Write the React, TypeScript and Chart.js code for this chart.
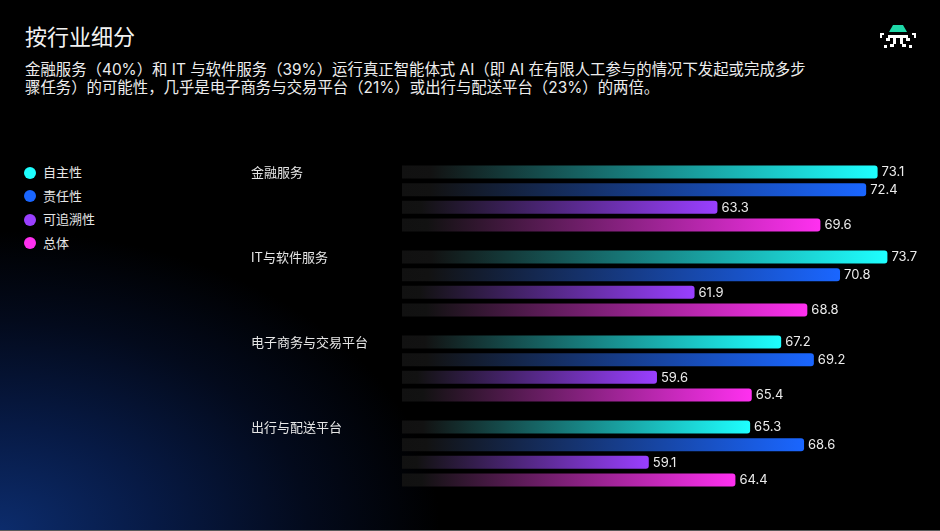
import React, { useEffect, useRef } from "react";
import { Chart, registerables } from "chart.js";

Chart.register(...registerables);

const categories = ["金融服务", "IT与软件服务", "电子商务与交易平台", "出行与配送平台"];
const seriesNames = ["自主性", "责任性", "可追溯性", "总体"];
const autonomy = [73.1, 73.7, 67.2, 65.3];
const accountability = [72.4, 70.8, 69.2, 68.6];
const traceability = [63.3, 61.9, 59.6, 59.1];
const overall = [69.6, 68.8, 65.4, 64.4];
const seriesColors = ["#1EFFFF", "#1A66FF", "#9A3FFF", "#FF30F0"];
const X_MIN = 44;
const X_MAX = 76;

const FONT = "Inter, 'Noto Sans CJK SC', 'Noto Sans', sans-serif";

const labelsPlugin = {
  id: "customLabels",
  afterDatasetsDraw(chart: any) {
    const ctx = chart.ctx;
    ctx.save();
    chart.data.datasets.forEach((ds: any, di: number) => {
      const meta = chart.getDatasetMeta(di);
      meta.data.forEach((bar: any, i: number) => {
        ctx.font = `13px ${FONT}`;
        ctx.fillStyle = "#ececec";
        ctx.textAlign = "left";
        ctx.textBaseline = "middle";
        ctx.fillText(String(ds.data[i]), bar.x + 4, bar.y + 0.5);
      });
    });
    const meta0 = chart.getDatasetMeta(0);
    meta0.data.forEach((bar: any, i: number) => {
      ctx.font = `13px ${FONT}`;
      ctx.fillStyle = "#e6e6e6";
      ctx.textAlign = "left";
      ctx.textBaseline = "middle";
      ctx.fillText(chart.data.labels[i], 251, bar.y + 1);
    });
    ctx.restore();
  },
};

function gradientFor(color: string) {
  return (c: any) => {
    const chart = c.chart;
    const area = chart.chartArea;
    if (!area || c.raw === undefined) return color;
    const xs = chart.scales.x;
    const x0 = area.left;
    const x1 = xs.getPixelForValue(c.raw);
    const g = chart.ctx.createLinearGradient(x0, 0, Math.max(x1, x0 + 1), 0);
    g.addColorStop(0, "#111111");
    g.addColorStop(0.06, "#121212");
    g.addColorStop(1, color);
    return g;
  };
}

export default function App() {
  const ref = useRef<HTMLCanvasElement>(null);

  useEffect(() => {
    if (!ref.current) return;
    const seriesData = [autonomy, accountability, traceability, overall];
    const chart = new Chart(ref.current, {
      type: "bar",
      data: {
        labels: categories,
        datasets: seriesData.map((d, i) => ({
          label: seriesNames[i],
          data: d,
          backgroundColor: gradientFor(seriesColors[i]),
          borderRadius: { topLeft: 0, bottomLeft: 0, topRight: 3, bottomRight: 3 },
          borderSkipped: false,
          categoryPercentage: 0.8306,
          barPercentage: 0.74,
        })),
      },
      options: {
        indexAxis: "y",
        responsive: false,
        animation: false,
        devicePixelRatio: 1,
        layout: { padding: { left: 402, right: 15, top: 156, bottom: 35 } },
        scales: {
          x: { min: X_MIN, max: X_MAX, display: false },
          y: { display: false },
        },
        plugins: {
          legend: { display: false },
          tooltip: { enabled: false },
        },
      } as any,
      plugins: [labelsPlugin],
    });
    return () => chart.destroy();
  }, []);

  return (
    <div
      style={{
        position: "fixed",
        left: 0,
        top: 0,
        width: 940,
        height: 531,
        overflow: "hidden",
        fontFamily: FONT,
        color: "#f0f0f0",
        background:
          "radial-gradient(ellipse 440px 300px at 0% 100%, #0c2c6c 0%, #071a45 35%, #030a1c 70%, #000 100%), #000",
      }}
    >
      <div style={{ position: "absolute", left: 25, top: 22, fontSize: 22, lineHeight: "30px", color: "#f2f2f2" }}>
        按行业细分
      </div>
      <div
        style={{
          position: "absolute",
          left: 25,
          top: 61,
          fontSize: 15.4,
          lineHeight: "17.5px",
          color: "#ededed",
          whiteSpace: "nowrap",
        }}
      >
        金融服务（40%）和 IT 与软件服务（39%）运行真正智能体式 AI（即 AI 在有限人工参与的情况下发起或完成多步
        <br />
        骤任务）的可能性，几乎是电子商务与交易平台（21%）或出行与配送平台（23%）的两倍。
      </div>

      {seriesNames.map((n, i) => (
        <div key={n} style={{ position: "absolute", left: 24, top: 166 + i * 23.5, height: 13, display: "flex", alignItems: "center" }}>
          <span
            style={{
              display: "inline-block",
              width: 12,
              height: 12,
              borderRadius: 6,
              background: seriesColors[i],
              marginRight: 7,
            }}
          />
          <span style={{ fontSize: 13, color: "#e6e6e6", lineHeight: "13px" }}>{n}</span>
        </div>
      ))}

      <svg style={{ position: "absolute", left: 878, top: 22 }} width="40" height="32" viewBox="0 0 40 32">
        <polygon points="11,10 15,3 25,3 29,10" fill="#1ED8A8" />
        <g fill="#ffffff">
          <rect x="2" y="11" width="4" height="2" />
          <rect x="2" y="13" width="2" height="3" />
          <rect x="34" y="11" width="4" height="2" />
          <rect x="36" y="13" width="2" height="3" />
          <rect x="10" y="13" width="20" height="3" />
          <rect x="8" y="16" width="4" height="3" />
          <rect x="28" y="16" width="4" height="3" />
          <rect x="15" y="16" width="3" height="6" />
          <rect x="22" y="16" width="3" height="6" />
          <rect x="12" y="22" width="4" height="3" />
          <rect x="24" y="22" width="4" height="3" />
          <rect x="6" y="23" width="3" height="3" />
          <rect x="31" y="23" width="3" height="3" />
        </g>
      </svg>

      <canvas ref={ref} width={940} height={531} style={{ position: "absolute", left: 0, top: 0, width: 940, height: 531 }} />
      <div style={{ position: "absolute", left: 0, top: 530, width: 940, height: 1, background: "#5a5a5a" }} />
    </div>
  );
}
